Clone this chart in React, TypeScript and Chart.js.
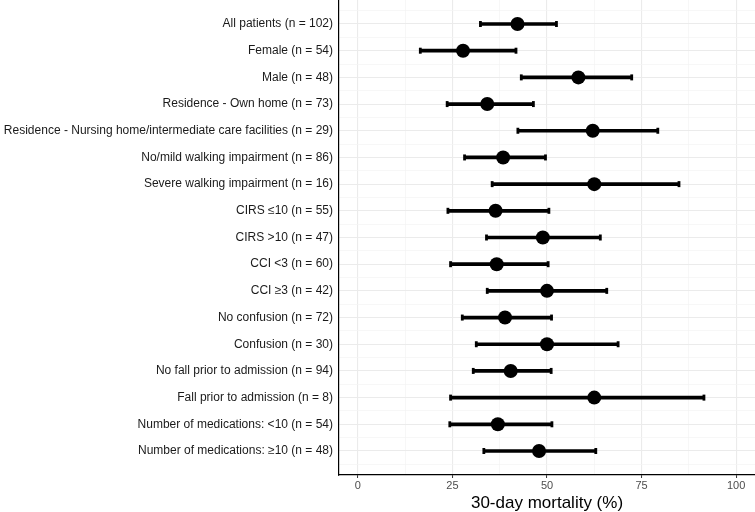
import React, { useEffect, useRef } from "react";
import { Chart, registerables } from "chart.js";

Chart.register(...registerables);

const categories = [
  "All patients (n = 102)",
  "Female (n = 54)",
  "Male (n = 48)",
  "Residence - Own home (n = 73)",
  "Residence - Nursing home/intermediate care facilities (n = 29)",
  "No/mild walking impairment (n = 86)",
  "Severe walking impairment (n = 16)",
  "CIRS ≤10 (n = 55)",
  "CIRS >10 (n = 47)",
  "CCI <3 (n = 60)",
  "CCI ≥3 (n = 42)",
  "No confusion (n = 72)",
  "Confusion (n = 30)",
  "No fall prior to admission (n = 94)",
  "Fall prior to admission (n = 8)",
  "Number of medications: <10 (n = 54)",
  "Number of medications: ≥10 (n = 48)",
];

const mortality = [42.2, 27.8, 58.3, 34.2, 62.1, 38.4, 62.5, 36.4, 48.9, 36.7, 50.0, 38.9, 50.0, 40.4, 62.5, 37.0, 47.9];
const lowerCI = [32.4, 16.5, 43.2, 23.6, 42.3, 28.2, 35.5, 23.8, 34.0, 24.5, 34.2, 27.6, 31.3, 30.5, 24.5, 24.3, 33.3];
const upperCI = [52.5, 41.8, 72.4, 46.4, 79.3, 49.6, 84.9, 50.5, 64.1, 50.3, 65.8, 51.2, 68.8, 51.1, 91.5, 51.3, 62.9];

const xTicks = [0, 12.5, 25, 37.5, 50, 62.5, 75, 87.5, 100];
const xTitle = "30-day mortality (%)";

const FONT = "Liberation Sans, Arial, sans-serif";

export default function App() {
  const ref = useRef<HTMLCanvasElement | null>(null);

  useEffect(() => {
    document.body.style.margin = "0";
    const ctx = ref.current;
    if (!ctx) return;
    const rows = categories.map((_, i) => i + 1);
    const yTickVals: number[] = [];
    for (let v = 0.5; v <= categories.length + 0.5; v += 0.5) yTickVals.push(v);

    const chart = new Chart(ctx, {
      type: "bar",
      data: {
        datasets: [
          {
            type: "bar",
            label: "CI",
            data: rows.map((r, i) => ({ x: [lowerCI[i], upperCI[i]], y: r })) as any,
            backgroundColor: "#000000",
            borderWidth: 0,
            barThickness: 3,
            order: 2,
          } as any,
          {
            type: "scatter",
            label: "caps",
            data: rows.flatMap((r, i) => [
              { x: lowerCI[i], y: r },
              { x: upperCI[i], y: r },
            ]),
            pointStyle: "line",
            rotation: 90,
            radius: 3,
            borderColor: "#000000",
            borderWidth: 2.8,
            order: 1,
          } as any,
          {
            type: "scatter",
            label: "mortality",
            data: rows.map((r, i) => ({ x: mortality[i], y: r })),
            pointStyle: "circle",
            radius: 7,
            backgroundColor: "#000000",
            borderColor: "#000000",
            borderWidth: 0,
            order: 0,
          } as any,
        ],
      },
      options: {
        animation: false,
        responsive: false,
        indexAxis: "y",
        layout: { padding: 0, autoPadding: false },
        plugins: { legend: { display: false }, tooltip: { enabled: false } },
        scales: {
          x: {
            type: "linear",
            position: "bottom",
            min: -5,
            max: 105,
            offset: false,
            afterBuildTicks: (axis: any) => {
              axis.ticks = xTicks.map((v) => ({ value: v }));
            },
            afterFit: (axis: any) => {
              axis.height = 37;
              axis.paddingLeft = 0;
              axis.paddingRight = 0;
            },
            ticks: {
              autoSkip: false,
              maxRotation: 0,
              padding: 1,
              color: "#4d4d4d",
              font: { family: FONT, size: 11 },
              callback: (v: any) => (Number(v) % 25 === 0 ? String(v) : ""),
            },
            grid: {
              offset: false,
              drawOnChartArea: true,
              color: (c: any) => (c.tick && c.tick.value % 25 === 0 ? "#ebebeb" : "#f3f3f3"),
              lineWidth: (c: any) => (c.tick && c.tick.value % 25 === 0 ? 1.1 : 0.7),
              tickColor: (c: any) => (c.tick && c.tick.value % 25 === 0 ? "#333333" : "rgba(0,0,0,0)"),
              tickLength: 3,
              tickWidth: 1,
            },
            border: { display: true, color: "#000000", width: 1.2 },
            title: {
              display: true,
              text: xTitle,
              color: "#000000",
              font: { family: FONT, size: 17 },
              padding: { top: 0, bottom: -2 },
            },
          },
          y: {
            type: "linear",
            reverse: true,
            offset: false,
            min: 0.1,
            max: categories.length + 0.9,
            afterBuildTicks: (axis: any) => {
              axis.ticks = yTickVals.map((v) => ({ value: v }));
            },
            afterFit: (axis: any) => {
              axis.width = 339;
              axis.paddingTop = 0;
              axis.paddingBottom = 0;
            },
            ticks: {
              autoSkip: false,
              padding: 4,
              color: "#1a1a1a",
              font: { family: FONT, size: 12 },
              callback: (v: any) => {
                const n = Number(v);
                return Number.isInteger(n) ? categories[n - 1] ?? "" : "";
              },
            },
            grid: {
              offset: false,
              color: (c: any) => (c.tick && Number.isInteger(c.tick.value) ? "#ebebeb" : "#f3f3f3"),
              lineWidth: (c: any) => (c.tick && Number.isInteger(c.tick.value) ? 1.1 : 0.7),
              tickColor: "rgba(0,0,0,0)",
              tickLength: 2,
            },
            border: { display: true, color: "#000000", width: 1.2 },
          },
        },
      } as any,
    });
    return () => chart.destroy();
  }, []);

  return (
    <div style={{ position: "absolute", left: 0, top: 0, width: 755, height: 512, background: "#ffffff" }}>
      <canvas ref={ref} width={755} height={512} style={{ width: 755, height: 512 }} />
    </div>
  );
}
